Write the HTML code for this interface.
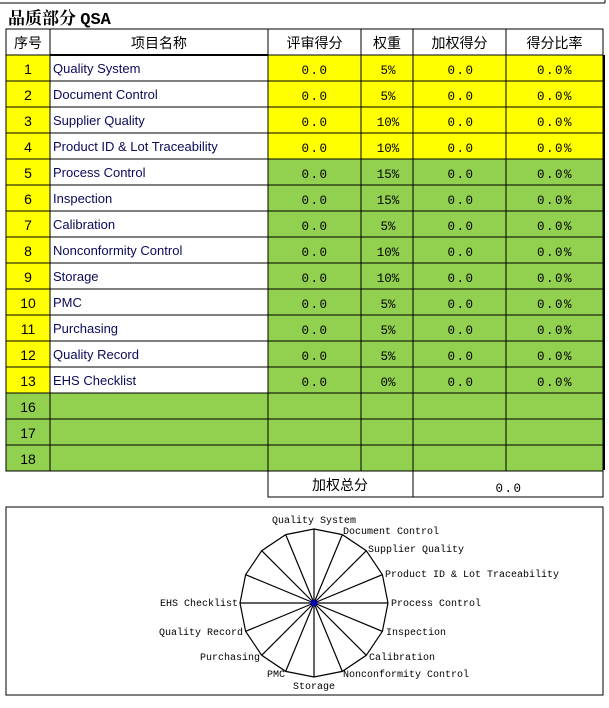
<!DOCTYPE html>
<html><head><meta charset="utf-8"><style>
body{margin:0;background:#fff;}
svg text{font-family:"Liberation Sans","Noto Sans CJK SC",sans-serif;}
.m{font-family:"Liberation Mono","Noto Sans CJK SC",monospace !important;font-size:12.5px;letter-spacing:1.5px;}
.n{font-size:13px;fill:#0a0a5a;}
.h{font-size:14px;}
.c{font-family:"Liberation Mono",monospace !important;font-size:10px;}
</style></head><body>
<svg width="609" height="703" xmlns="http://www.w3.org/2000/svg">
<rect width="609" height="703" fill="#fff"/>
<line x1="0" y1="3" x2="605" y2="3" stroke="#000"/>
<line x1="605" y1="0" x2="605" y2="3" stroke="#000"/>
<text x="8" y="24" style="font-family:'Noto Serif CJK SC','Liberation Serif',serif;font-size:17px;font-weight:bold">品质部分 <tspan style="font-family:'Liberation Mono',monospace">QSA</tspan></text>
<g id="t"></g>
<rect x="6" y="507" width="597" height="188" fill="none" stroke="#000"/>
<g id="r"></g>
</svg>
<script>
const NS="http://www.w3.org/2000/svg";
function el(p,tag,a,txt){const e=document.createElementNS(NS,tag);for(const k in a)e.setAttribute(k,a[k]);if(txt!=null)e.textContent=txt;p.appendChild(e);return e;}
const t=document.getElementById('t');
const X=[6,50,268,361,413,506,603];
const YELLOW="#ffff00",G="#92d050";
const names=["Quality System","Document Control","Supplier Quality","Product ID & Lot Traceability","Process Control","Inspection","Calibration","Nonconformity Control","Storage","PMC","Purchasing","Quality Record","EHS Checklist"];
const w=["5%","5%","10%","10%","15%","15%","5%","10%","10%","5%","5%","5%","0%"];
const hd=["序号","项目名称","评审得分","权重","加权得分","得分比率"];
for(let i=0;i<6;i++){el(t,'rect',{x:X[i],y:29,width:X[i+1]-X[i],height:26,fill:'#fff',stroke:'#000'});
el(t,'text',{x:(X[i]+X[i+1])/2,y:48,'text-anchor':'middle',class:'h'},hd[i]);}
for(let r=0;r<16;r++){
 const y=55+r*26;const real=r<13;const lab=real?String(r+1):String(r+3);
 for(let i=0;i<6;i++){
  let f;
  if(i==0) f=real?YELLOW:G;
  else if(i==1) f=real?'#fff':G;
  else f=r<4?YELLOW:G;
  el(t,'rect',{x:X[i],y:y,width:X[i+1]-X[i],height:26,fill:f,stroke:'#000'});
 }
 el(t,'text',{x:28,y:y+19,'text-anchor':'middle',class:'h'},lab);
 if(real){
  el(t,'text',{x:53,y:y+18,class:'n'},names[r]);
  el(t,'text',{x:315,y:y+19,'text-anchor':'middle',class:'m'},"0.0");
  el(t,'text',{x:388,y:y+19,'text-anchor':'middle',class:'m',style:'letter-spacing:0'},w[r]);
  el(t,'text',{x:461,y:y+19,'text-anchor':'middle',class:'m'},"0.0");
  el(t,'text',{x:555,y:y+19,'text-anchor':'middle',class:'m'},"0.0%");
 }
}
el(t,'line',{x1:50,y1:55,x2:268,y2:55,stroke:'#000','stroke-width':2});
el(t,'line',{x1:604,y1:55,x2:604,y2:470,stroke:'#000','stroke-width':2});
el(t,'rect',{x:268,y:471,width:145,height:26,fill:'#fff',stroke:'#000'});
el(t,'rect',{x:413,y:471,width:190,height:26,fill:'#fff',stroke:'#000'});
el(t,'text',{x:340,y:490,'text-anchor':'middle',class:'h'},"加权总分");
el(t,'text',{x:509,y:492,'text-anchor':'middle',class:'m'},"0.0");
const r=document.getElementById('r');const cx=314,cy=603,R=74;let pts=[];
for(let k=0;k<16;k++){const a=k*Math.PI/8;const px=cx+R*Math.sin(a),py=cy-R*Math.cos(a);pts.push(px.toFixed(1)+','+py.toFixed(1));
el(r,'line',{x1:cx,y1:cy,x2:px,y2:py,stroke:'#000','stroke-width':1.2});}
el(r,'polygon',{points:pts.join(' '),fill:'none',stroke:'#000','stroke-width':1.2});
el(r,'circle',{cx:cx,cy:cy,r:3.5,fill:'#0000aa'});
const L=[["Quality System",314,523,'middle'],["Document Control",343,534,'start'],["Supplier Quality",368,552,'start'],["Product ID & Lot Traceability",385,577,'start'],["Process Control",391,606,'start'],["Inspection",386,635,'start'],["Calibration",369,660,'start'],["Nonconformity Control",343,677,'start'],["Storage",314,689,'middle'],["PMC",285,677,'end'],["Purchasing",260,660,'end'],["Quality Record",243,635,'end'],["EHS Checklist",238,606,'end']];
for(const l of L)el(r,'text',{x:l[1],y:l[2],'text-anchor':l[3],class:'c'},l[0]);
</script>
</body></html>
